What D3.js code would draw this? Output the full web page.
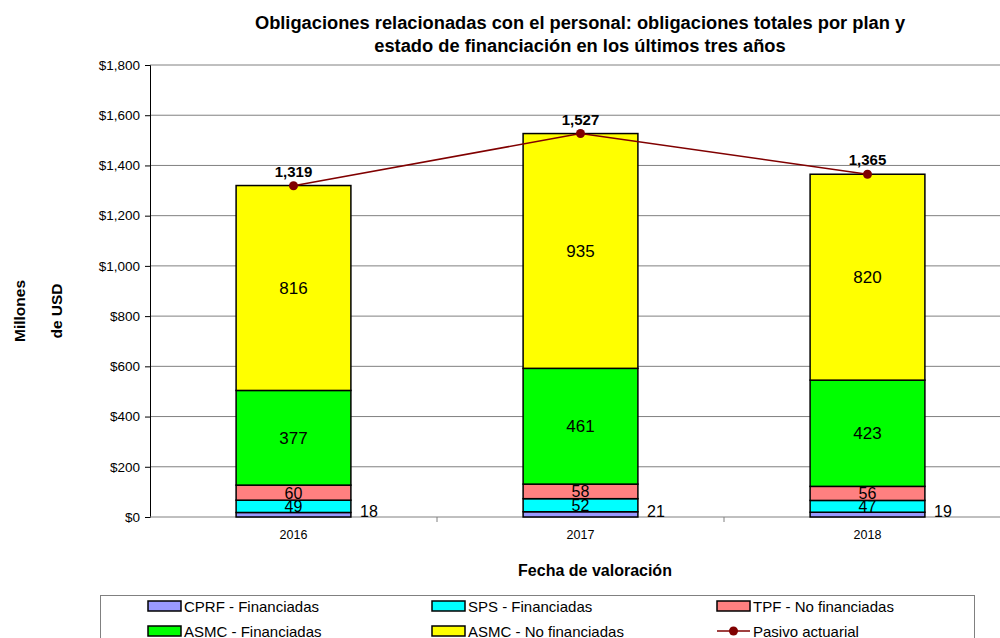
<!DOCTYPE html>
<html>
  <head>
    <meta charset="utf-8">
    <title>Obligaciones relacionadas con el personal</title>
    <script src="https://d3js.org/d3.v7.min.js"></script>
    <style>
      body { margin: 0; background: #fff; }
      svg { font-family: Arial, "Liberation Sans", sans-serif; }
    </style>
  </head>
  <body>
    <svg width="1000" height="638"></svg>
    <script>
      // data
      var years = ["2016", "2017", "2018"];
      var seriesNames = ["CPRF - Financiadas", "SPS - Financiadas", "TPF - No financiadas",
                         "ASMC - Financiadas", "ASMC - No financiadas"];
      var cprf = [18, 21, 19];
      var sps = [49, 52, 47];
      var tpf = [60, 58, 56];
      var asmcFin = [377, 461, 423];
      var asmcNoFin = [816, 935, 820];
      var pasivo = [1319, 1527, 1365];
      var yTicks = [0, 200, 400, 600, 800, 1000, 1200, 1400, 1600, 1800];
      var colors = ["#9999ff", "#00ffff", "#ff8080", "#00ff00", "#ffff00"];
      var lineColor = "#800000";

      var svg = d3.select("svg"),
          margin = {top: 65, left: 150, bottom: 121},
          height = 638 - margin.top - margin.bottom,
          bandW = 287;

      var rows = years.map(function(y, i) {
        return {year: y, s0: cprf[i], s1: sps[i], s2: tpf[i], s3: asmcFin[i], s4: asmcNoFin[i]};
      });
      var keys = ["s0", "s1", "s2", "s3", "s4"];
      var stacked = d3.stack().keys(keys)(rows);

      var x = d3.scaleBand().domain(years).range([margin.left, margin.left + bandW * 3]).paddingInner(0.6).paddingOuter(0.3);
      var y = d3.scaleLinear().domain([0, 1800]).range([margin.top + height, margin.top]);

      // gridlines
      svg.append("g").selectAll("line")
          .data(yTicks.slice(1))
        .enter().append("line")
          .attr("x1", margin.left).attr("x2", 1000)
          .attr("y1", function(d) { return y(d); }).attr("y2", function(d) { return y(d); })
          .attr("stroke", "#808080").attr("stroke-width", 1);

      // y axis
      var yAxis = d3.axisLeft(y).tickValues(yTicks).tickSize(5).tickPadding(5)
          .tickFormat(function(d) { return "$" + d3.format(",")(d); });
      var gy = svg.append("g").attr("transform", "translate(" + margin.left + ",0)").call(yAxis);
      gy.select(".domain").attr("stroke", "#000");
      gy.selectAll(".tick line").attr("stroke", "#000");
      gy.selectAll("text").attr("font-size", 13.5).attr("fill", "#000").attr("font-family", "Arial, 'Liberation Sans', sans-serif");

      // x axis
      var gx = svg.append("g").attr("transform", "translate(0," + y(0) + ")");
      gx.append("line").attr("x1", margin.left).attr("x2", 1000).attr("stroke", "#808080");
      gx.selectAll(".sep").data([1, 2, 3]).enter().append("line")
          .attr("x1", function(d) { return margin.left + d * bandW; })
          .attr("x2", function(d) { return margin.left + d * bandW; })
          .attr("y1", 0).attr("y2", 5).attr("stroke", "#808080");
      gx.selectAll(".lbl").data(years).enter().append("text")
          .attr("x", function(d) { return x(d) + x.bandwidth() / 2; })
          .attr("y", 22).attr("text-anchor", "middle").attr("font-size", 12.5)
          .text(function(d) { return d; });

      // bars
      var layer = svg.selectAll(".layer")
          .data(stacked)
        .enter().append("g")
          .attr("class", "layer")
          .attr("fill", function(d, i) { return colors[i]; });

      layer.selectAll("rect")
          .data(function(d) { return d; })
        .enter().append("rect")
          .attr("x", function(d) { return x(d.data.year); })
          .attr("width", x.bandwidth())
          .attr("y", function(d) { return y(d[1]); })
          .attr("height", function(d) { return y(d[0]) - y(d[1]); })
          .attr("stroke", "#000").attr("stroke-width", 1.5);

      // segment labels
      stacked.forEach(function(s, si) {
        svg.append("g").selectAll("text")
            .data(s)
          .enter().append("text")
            .attr("x", function(d) {
              return si == 0 ? x(d.data.year) + x.bandwidth() + 18 : x(d.data.year) + x.bandwidth() / 2;
            })
            .attr("y", function(d) {
              return si == 0 ? y(0) - 0 : (y(d[0]) + y(d[1])) / 2 + 6;
            })
            .attr("text-anchor", "middle")
            .attr("font-size", si < 3 ? 16 : 17)
            .text(function(d) { return d[1] - d[0]; });
      });

      // pasivo actuarial line
      var cx = function(i) { return x(years[i]) + x.bandwidth() / 2; };
      svg.append("path")
          .datum(pasivo)
          .attr("fill", "none").attr("stroke", lineColor).attr("stroke-width", 1.5)
          .attr("d", d3.line().x(function(d, i) { return cx(i); }).y(function(d) { return y(d); }));
      svg.append("g").selectAll("circle")
          .data(pasivo)
        .enter().append("circle")
          .attr("cx", function(d, i) { return cx(i); })
          .attr("cy", function(d) { return y(d); })
          .attr("r", 4.5).attr("fill", lineColor);
      svg.append("g").selectAll("text")
          .data(pasivo)
        .enter().append("text")
          .attr("x", function(d, i) { return cx(i); })
          .attr("y", function(d) { return y(d) - 9; })
          .attr("text-anchor", "middle").attr("font-size", 15).attr("font-weight", "bold")
          .text(function(d) { return d3.format(",")(d); });

      // titles
      var title = svg.append("text").attr("text-anchor", "middle").attr("font-size", 18.3).attr("font-weight", "bold");
      title.append("tspan").attr("x", 580).attr("y", 29).text("Obligaciones relacionadas con el personal: obligaciones totales por plan y");
      title.append("tspan").attr("x", 580).attr("y", 52).text("estado de financiación en los últimos tres años");

      svg.append("text").attr("transform", "translate(25,311) rotate(-90)")
          .attr("text-anchor", "middle").attr("font-size", 15.5).attr("font-weight", "bold").text("Millones");
      svg.append("text").attr("transform", "translate(62,311) rotate(-90)")
          .attr("text-anchor", "middle").attr("font-size", 15.5).attr("font-weight", "bold").text("de USD");
      svg.append("text").attr("x", 595).attr("y", 576)
          .attr("text-anchor", "middle").attr("font-size", 16).attr("font-weight", "bold").text("Fecha de valoración");

      // legend
      var legend = svg.append("g");
      legend.append("rect").attr("x", 100.5).attr("y", 595.5).attr("width", 874).attr("height", 60)
          .attr("fill", "#fff").attr("stroke", "#808080");
      var legendItems = seriesNames.map(function(n, i) { return {name: n, color: colors[i]}; })
          .concat([{name: "Pasivo actuarial", line: true}]);
      var colX = [148, 432, 717], rowY = [606, 631];
      var li = legend.selectAll(".item")
          .data(legendItems)
        .enter().append("g")
          .attr("transform", function(d, i) { return "translate(" + colX[i % 3] + "," + rowY[Math.floor(i / 3)] + ")"; });
      li.filter(function(d) { return !d.line; }).append("rect")
          .attr("x", 0).attr("y", -5).attr("width", 33).attr("height", 10)
          .attr("fill", function(d) { return d.color; }).attr("stroke", "#000").attr("stroke-width", 1.5);
      li.filter(function(d) { return d.line; }).append("line")
          .attr("x1", 0).attr("x2", 33).attr("stroke", lineColor).attr("stroke-width", 1.5);
      li.filter(function(d) { return d.line; }).append("circle")
          .attr("cx", 16.5).attr("r", 4.5).attr("fill", lineColor);
      li.append("text").attr("x", 36).attr("y", 5.5).attr("font-size", 15)
          .text(function(d) { return d.name; });
    </script>
  </body>
</html>
